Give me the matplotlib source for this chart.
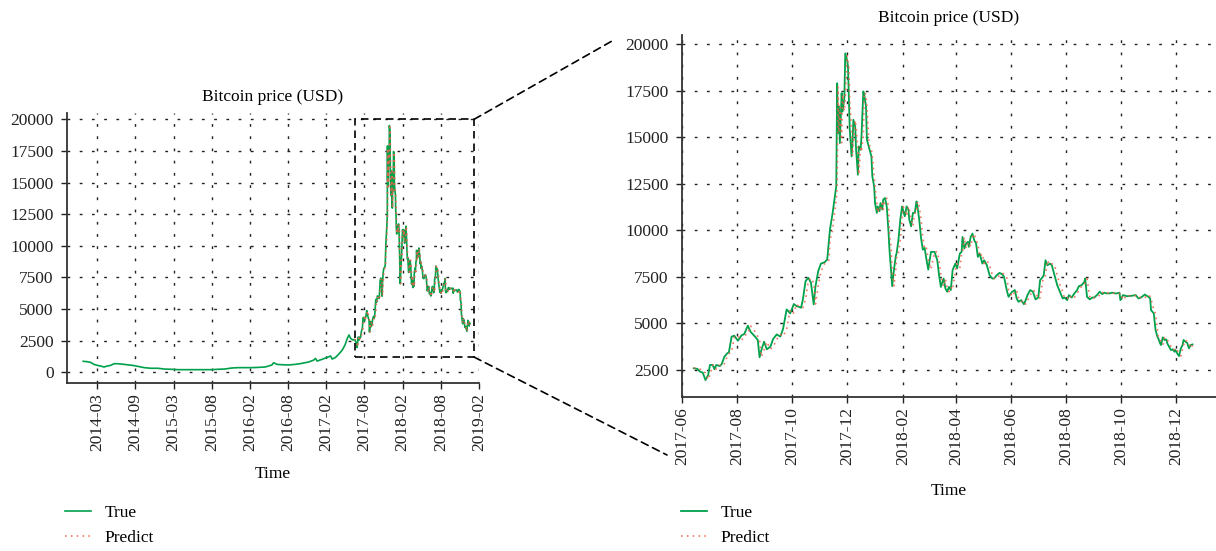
import matplotlib.pyplot as plt
import matplotlib.dates as mdates
import numpy as np
import pandas as pd
from matplotlib.patches import Rectangle, ConnectionPatch

plt.rcParams['font.family'] = ['Liberation Serif', 'DejaVu Serif']
plt.rcParams['font.size'] = 12.5

# history before the test window (overview panel only)
early_dates = ['2013-11-28', '2013-12-17', '2014-01-02', '2014-01-18', '2014-02-03', '2014-02-19',
               '2014-03-07', '2014-03-23', '2014-04-08', '2014-04-24', '2014-05-10', '2014-05-26',
               '2014-06-11', '2014-07-05', '2014-07-29', '2014-08-22', '2014-09-15', '2014-10-17',
               '2014-11-19', '2014-12-21', '2015-01-22', '2015-02-23', '2015-03-27', '2015-04-28',
               '2015-05-30', '2015-07-01', '2015-08-02', '2015-09-03', '2015-10-05', '2015-11-06',
               '2015-12-08', '2016-01-09', '2016-02-10', '2016-03-13', '2016-04-15', '2016-05-17',
               '2016-05-25', '2016-06-10', '2016-07-04', '2016-08-05', '2016-09-06', '2016-10-08',
               '2016-11-09', '2016-12-03', '2016-12-11', '2016-12-19', '2017-01-12', '2017-02-05',
               '2017-02-21', '2017-03-01', '2017-03-17', '2017-04-02', '2017-04-18', '2017-05-01',
               '2017-05-12', '2017-05-20', '2017-05-28', '2017-06-08']
early_price = [870, 840, 790, 630, 550, 500,
               420, 500, 550, 680, 680, 660,
               630, 580, 530, 450, 370, 320,
               320, 260, 240, 210, 210, 210,
               210, 210, 210, 240, 260, 340,
               370, 370, 370, 390, 420, 580,
               760, 630, 600, 580, 630, 710,
               820, 970, 1100, 890, 1030, 1180,
               1290, 1050, 1180, 1450, 1760, 2160,
               2680, 2950, 2680, 2550]

# test window: true and predicted price
test_dates = [
    '2017-06-14', '2017-06-18', '2017-06-21', '2017-06-24', '2017-06-27', '2017-06-30',
    '2017-07-02', '2017-07-05', '2017-07-07', '2017-07-09', '2017-07-13', '2017-07-15',
    '2017-07-18', '2017-07-21', '2017-07-23', '2017-07-26', '2017-07-29', '2017-08-02',
    '2017-08-06', '2017-08-09', '2017-08-13', '2017-08-16', '2017-08-21', '2017-08-24',
    '2017-08-26', '2017-08-28', '2017-08-31', '2017-09-03', '2017-09-07', '2017-09-10',
    '2017-09-14', '2017-09-18', '2017-09-21', '2017-09-25', '2017-09-29', '2017-10-03',
    '2017-10-06', '2017-10-08', '2017-10-11', '2017-10-13', '2017-10-16', '2017-10-19',
    '2017-10-22', '2017-10-25', '2017-10-27', '2017-10-30', '2017-11-02', '2017-11-06',
    '2017-11-09', '2017-11-11', '2017-11-12', '2017-11-15', '2017-11-17', '2017-11-19',
    '2017-11-20', '2017-11-21', '2017-11-22', '2017-11-23', '2017-11-25', '2017-11-26',
    '2017-11-28', '2017-11-29', '2017-12-01', '2017-12-02', '2017-12-03', '2017-12-04',
    '2017-12-06', '2017-12-07', '2017-12-08', '2017-12-10', '2017-12-11', '2017-12-13',
    '2017-12-14', '2017-12-16', '2017-12-17', '2017-12-19', '2017-12-20', '2017-12-22',
    '2017-12-23', '2017-12-25', '2017-12-26', '2017-12-28', '2017-12-29', '2017-12-31',
    '2018-01-01', '2018-01-03', '2018-01-04', '2018-01-06', '2018-01-07', '2018-01-09',
    '2018-01-10', '2018-01-12', '2018-01-14', '2018-01-16', '2018-01-17', '2018-01-19',
    '2018-01-20', '2018-01-22', '2018-01-24', '2018-01-25', '2018-01-27', '2018-01-29',
    '2018-01-31', '2018-02-01', '2018-02-03', '2018-02-05', '2018-02-07', '2018-02-08',
    '2018-02-10', '2018-02-12', '2018-02-14', '2018-02-16', '2018-02-17', '2018-02-19',
    '2018-02-21', '2018-02-23', '2018-02-25', '2018-02-27', '2018-03-01', '2018-03-04',
    '2018-03-08', '2018-03-11', '2018-03-13', '2018-03-15', '2018-03-18', '2018-03-20',
    '2018-03-22', '2018-03-24', '2018-03-26', '2018-03-28', '2018-03-31', '2018-04-02',
    '2018-04-05', '2018-04-07', '2018-04-08', '2018-04-10', '2018-04-12', '2018-04-14',
    '2018-04-15', '2018-04-17', '2018-04-19', '2018-04-21', '2018-04-23', '2018-04-25',
    '2018-04-27', '2018-04-30', '2018-05-02', '2018-05-05', '2018-05-08', '2018-05-11',
    '2018-05-13', '2018-05-16', '2018-05-19', '2018-05-22', '2018-05-24', '2018-05-27',
    '2018-05-29', '2018-06-02', '2018-06-05', '2018-06-07', '2018-06-09', '2018-06-12',
    '2018-06-15', '2018-06-17', '2018-06-19', '2018-06-22', '2018-06-25', '2018-06-28',
    '2018-07-01', '2018-07-03', '2018-07-06', '2018-07-07', '2018-07-09', '2018-07-11',
    '2018-07-14', '2018-07-16', '2018-07-19', '2018-07-22', '2018-07-25', '2018-07-28',
    '2018-07-30', '2018-08-02', '2018-08-04', '2018-08-07', '2018-08-10', '2018-08-13',
    '2018-08-15', '2018-08-18', '2018-08-21', '2018-08-22', '2018-08-24', '2018-08-27',
    '2018-08-30', '2018-09-01', '2018-09-04', '2018-09-07', '2018-09-10', '2018-09-12',
    '2018-09-15', '2018-09-18', '2018-09-21', '2018-09-24', '2018-09-26', '2018-09-29',
    '2018-09-30', '2018-10-03', '2018-10-07', '2018-10-12', '2018-10-17', '2018-10-20',
    '2018-10-23', '2018-10-27', '2018-10-31', '2018-11-02', '2018-11-03', '2018-11-06',
    '2018-11-08', '2018-11-10', '2018-11-11', '2018-11-13', '2018-11-14', '2018-11-16',
    '2018-11-18', '2018-11-20', '2018-11-21', '2018-11-23', '2018-11-25', '2018-11-27',
    '2018-11-29', '2018-11-30', '2018-12-02', '2018-12-04', '2018-12-06', '2018-12-08',
    '2018-12-09', '2018-12-11', '2018-12-13', '2018-12-15', '2018-12-17', '2018-12-19']
true_price = [
    2590, 2560, 2410, 2360, 1960, 2230, 2770, 2770, 2540, 2770, 2710, 2820,
    3210, 3390, 3450, 4290, 4340, 4070, 4360, 4430, 4880, 4550, 4290, 4110,
    3180, 3570, 4020, 3610, 3750, 4160, 4410, 4290, 4700, 5750, 5540, 6040,
    5930, 5900, 5840, 6280, 7270, 7450, 7180, 6020, 7000, 7800, 8210, 8280,
    8430, 9500, 10030, 10930, 11640, 12360, 17890, 15210, 16640, 14680, 17360, 16370,
    17090, 19500, 19140, 18790, 17000, 15390, 13960, 14680, 15930, 15570, 14320, 12980,
    14500, 14320, 15040, 17450, 17300, 16640, 14860, 14500, 14320, 13960, 12890, 12360,
    11460, 10930, 11280, 11020, 11460, 11110, 11640, 11730, 11280, 9860, 8960, 7710,
    7000, 7890, 8610, 8790, 9500, 10570, 11280, 11110, 10750, 11280, 11110, 10570,
    10210, 10930, 10930, 11550, 11280, 10570, 9590, 8960, 9050, 8430, 7890, 8840,
    8840, 8390, 7590, 6960, 7410, 6880, 6700, 6960, 6790, 7860, 8210, 7950,
    8750, 8840, 9640, 9020, 9290, 9380, 9110, 9640, 9820, 9460, 9290, 8570,
    8750, 8210, 8390, 8120, 7590, 7410, 7410, 7590, 7710, 7640, 7500, 6790,
    6430, 6700, 6790, 6340, 6160, 6250, 6030, 6250, 6520, 6790, 6700, 6290,
    6390, 7320, 7500, 7590, 8390, 8120, 8210, 8120, 7590, 7050, 6700, 6340,
    6390, 6250, 6520, 6390, 6610, 6790, 7000, 7050, 7230, 7410, 6430, 6290,
    6390, 6390, 6520, 6700, 6570, 6650, 6610, 6610, 6650, 6610, 6610, 6650,
    6250, 6520, 6460, 6480, 6520, 6340, 6390, 6550, 6430, 6340, 5710, 5540,
    4640, 4290, 4200, 3930, 3840, 4250, 4110, 4140, 3930, 3750, 3570, 3610,
    3480, 3570, 3390, 3250, 3660, 3840, 4110, 4020, 3960, 3660, 3840, 3870]
pred_price = [
    2600, 2590, 2550, 2420, 2350, 1980, 2240, 2760, 2780, 2550, 2760, 2700,
    2830, 3200, 3380, 3460, 4280, 4330, 4080, 4350, 4440, 4870, 4560, 4300,
    4100, 3200, 3580, 4010, 3620, 3740, 4150, 4400, 4300, 4690, 5740, 5550,
    6030, 5940, 5890, 5850, 6290, 7260, 7440, 7170, 6040, 6990, 7790, 8200,
    8270, 8420, 9490, 10020, 10920, 11630, 12350, 17700, 15250, 16600, 14700, 17300,
    16400, 17100, 19400, 19100, 18750, 17000, 15400, 13980, 14690, 15900, 15560, 14330,
    13000, 14480, 14330, 15050, 17400, 17280, 16620, 14880, 14510, 14330, 13950, 12900,
    12350, 11470, 10940, 11270, 11030, 11450, 11120, 11630, 11720, 11270, 9870, 8970,
    7720, 7010, 7900, 8600, 8800, 9490, 10560, 11270, 11120, 10760, 11270, 11100,
    10580, 10220, 10920, 10940, 11540, 11290, 10580, 9600, 8970, 9040, 8440, 7900,
    8830, 8850, 8400, 7600, 6970, 7400, 6890, 6710, 6950, 6800, 7850, 8200,
    7960, 8740, 8850, 9630, 9030, 9280, 9370, 9120, 9630, 9810, 9470, 9280,
    8580, 8740, 8220, 8380, 8130, 7600, 7420, 7400, 7580, 7700, 7650, 7490,
    6800, 6440, 6690, 6780, 6350, 6170, 6240, 6040, 6240, 6510, 6780, 6710,
    6300, 6380, 7310, 7490, 7580, 8380, 8130, 8200, 8130, 7600, 7060, 6710,
    6350, 6380, 6260, 6510, 6400, 6600, 6780, 6990, 7040, 7220, 7400, 6440,
    6300, 6380, 6400, 6510, 6690, 6580, 6640, 6620, 6600, 6640, 6620, 6600,
    6640, 6260, 6510, 6470, 6490, 6510, 6350, 6380, 6540, 6440, 6330, 5720,
    5530, 4650, 4300, 4210, 3940, 3850, 4240, 4120, 4130, 3940, 3760, 3580,
    3600, 3490, 3560, 3400, 3260, 3650, 3830, 4100, 4030, 3970, 3670, 3830]

left_tick_labels = ['2014-03', '2014-09', '2015-03', '2015-08', '2016-02', '2016-08',
                    '2017-02', '2017-08', '2018-02', '2018-08', '2019-02']
right_tick_labels = ['2017-06', '2017-08', '2017-10', '2017-12', '2018-02', '2018-04',
                     '2018-06', '2018-08', '2018-10', '2018-12']

GREEN = '#00a14b'
RED = '#f0604a'
W, H = 1216, 551

early_d = pd.to_datetime(early_dates)
test_d = pd.to_datetime(test_dates)
all_d = early_d.append(test_d)
all_p = early_price + true_price

fig = plt.figure(figsize=(W / 100, H / 100), dpi=100)
ax1 = fig.add_axes([66.7 / W, 1 - 382.7 / H, 412.3 / W, 269.4 / H])
ax2 = fig.add_axes([682 / W, 1 - 397 / H, 534 / W, 362 / H])


def style(ax, lpad):
    for s in ['top', 'right']:
        ax.spines[s].set_visible(False)
    for s in ['left', 'bottom']:
        ax.spines[s].set_linewidth(1.3)
        ax.spines[s].set_color('#333333')
    ax.grid(True, linestyle=(0, (2, 6.8)), color='#222222', linewidth=1)
    ax.set_axisbelow(True)
    ax.tick_params(direction='out', length=4, width=1, colors='#222222', labelsize=12.5)
    ax.tick_params(axis='y', pad=5.5)
    ax.set_title('Bitcoin price (USD)', fontsize=12.5, pad=9)
    ax.set_xlabel('Time', fontsize=12.5, labelpad=lpad)


def add_legend(ax, handles, x_px):
    ax.legend(handles=handles, loc='upper left', bbox_to_anchor=(x_px / W, 1 - 505 / H),
              bbox_transform=fig.transFigure, frameon=False, borderpad=0, borderaxespad=0,
              handlelength=1.5, handletextpad=0.8, labelspacing=0.52, fontsize=12.5)


pred_style = dict(color=RED, lw=1.2, ls=(0, (1, 2.5)), alpha=0.85, zorder=3)

# overview
l1, = ax1.plot(all_d, all_p, color=GREEN, lw=1.2, label='True')
l2, = ax1.plot(test_d, pred_price, label='Predict', **pred_style)
style(ax1, 10.5)
ax1.set_xlim(pd.Timestamp('2013-09-10'), pd.Timestamp('2019-01-31'))
ax1.set_ylim(-820, 20470)
ax1.set_yticks(range(0, 20001, 2500))
ax1.set_xticks(pd.date_range('2014-02-03', '2019-01-31', periods=len(left_tick_labels)))
ax1.set_xticklabels(left_tick_labels, rotation=90)
add_legend(ax1, [l1, l2], 65)

# zoomed test window
r1, = ax2.plot(test_d, true_price, color=GREEN, lw=1.3, label='True')
r2, = ax2.plot(test_d, pred_price, label='Predict', **pred_style)
style(ax2, 13)
ax2.set_xlim(pd.Timestamp('2017-06-01'), pd.Timestamp('2019-01-14'))
ax2.set_ylim(1050, 20480)
ax2.set_yticks(range(2500, 20001, 2500))
ax2.set_xticks(pd.to_datetime([t + '-01' for t in right_tick_labels]))
ax2.set_xticklabels(right_tick_labels, rotation=90)
add_legend(ax2, [r1, r2], 681)

# dashed zoom box and connectors
bx0 = mdates.date2num(pd.Timestamp('2017-06-17'))
bx1 = mdates.date2num(pd.Timestamp('2019-01-08'))
dash = (0, (4.5, 3))
ax1.add_patch(Rectangle((bx0, 1200), bx1 - bx0, 18800, fill=False, ec='black',
                        lw=1.2, ls=dash, clip_on=False, zorder=4))
for ya, xb, yb in [(20000, 615, 39.3), (1200, 667, 455)]:
    con = ConnectionPatch(xyA=(bx1, ya), coordsA=ax1.transData,
                          xyB=(xb / W, 1 - yb / H), coordsB=fig.transFigure,
                          color='black', lw=1.2, ls=dash)
    fig.add_artist(con)

fig.savefig('out.png', dpi=100)
